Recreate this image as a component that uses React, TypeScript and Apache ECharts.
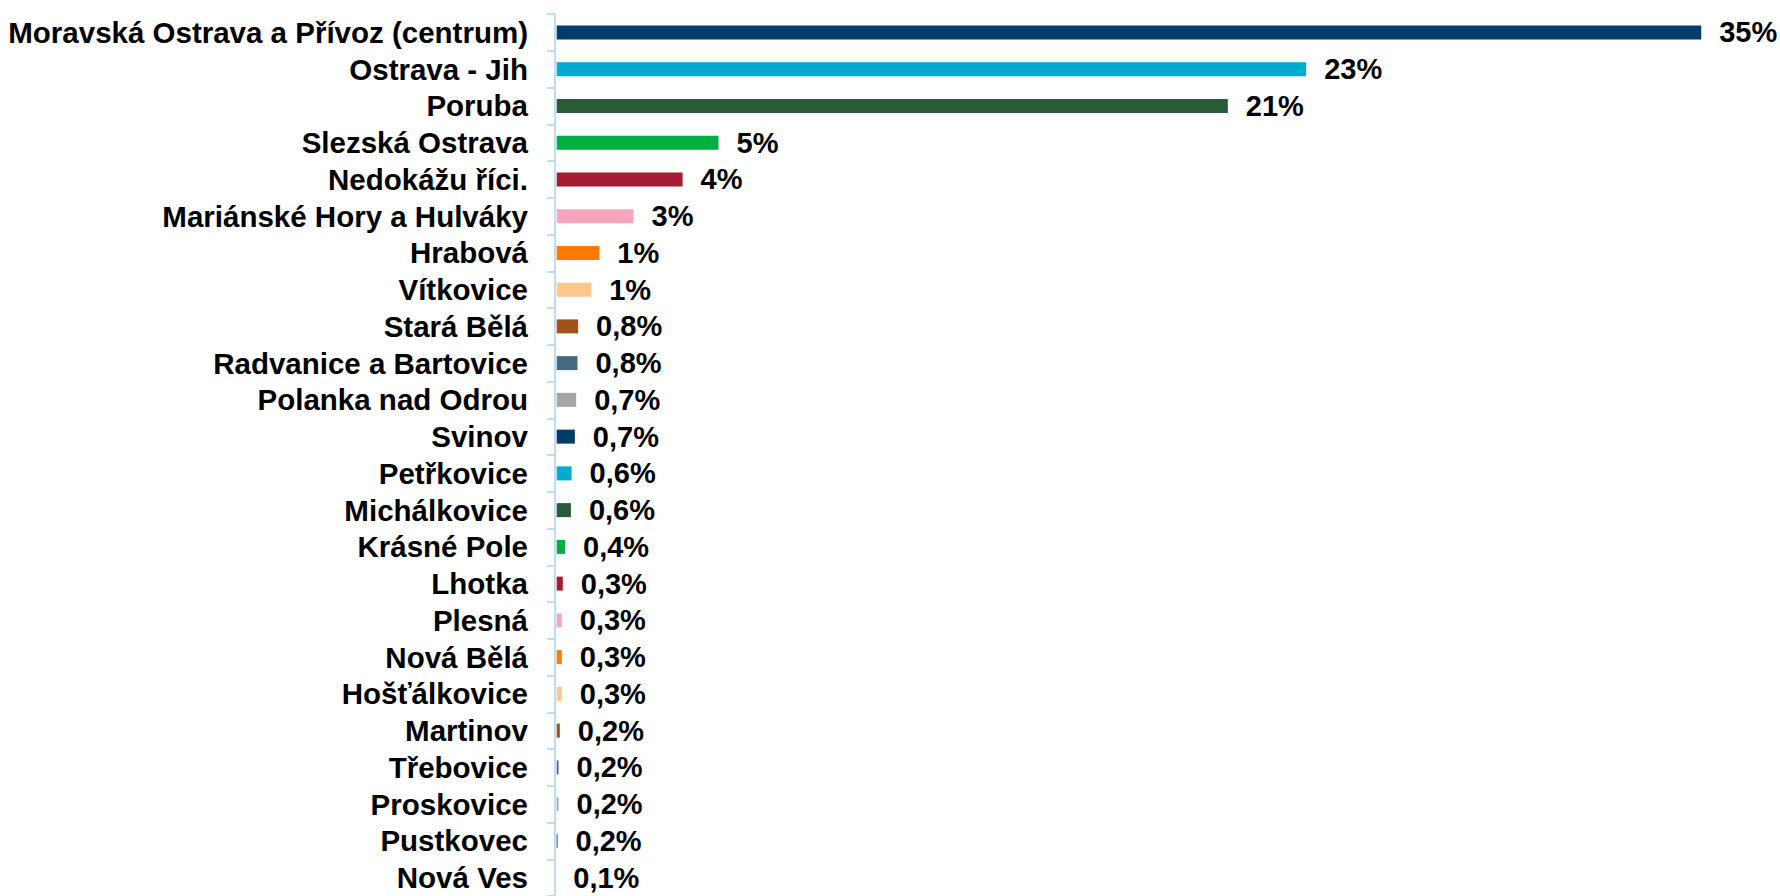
import React, { useEffect, useRef } from "react";
import * as echarts from "echarts";

const categories = [
  "Moravská Ostrava a Přívoz (centrum)",
  "Ostrava - Jih",
  "Poruba",
  "Slezská Ostrava",
  "Nedokážu říci.",
  "Mariánské Hory a Hulváky",
  "Hrabová",
  "Vítkovice",
  "Stará Bělá",
  "Radvanice a Bartovice",
  "Polanka nad Odrou",
  "Svinov",
  "Petřkovice",
  "Michálkovice",
  "Krásné Pole",
  "Lhotka",
  "Plesná",
  "Nová Bělá",
  "Hošťálkovice",
  "Martinov",
  "Třebovice",
  "Proskovice",
  "Pustkovec",
  "Nová Ves",
];

const values = [
  35.2, 23.1, 20.7, 5.1, 4.0, 2.5, 1.45, 1.2, 0.8, 0.78, 0.74, 0.7, 0.6, 0.58,
  0.4, 0.33, 0.3, 0.3, 0.3, 0.24, 0.2, 0.2, 0.17, 0.1,
];

const palette = [
  "#023C69",
  "#00ABD0",
  "#2A5B37",
  "#00AF41",
  "#A51B33",
  "#F5A6BD",
  "#FF7A00",
  "#FFC78A",
  "#A0521B",
  "#466A80",
  "#A6A6A6",
];

const FONT = "'Liberation Sans', Arial, sans-serif";

function fmt(v: number): string {
  if (v >= 1) return Math.round(v) + "%";
  return v.toFixed(1).replace(".", ",") + "%";
}

export default function App() {
  const ref = useRef<HTMLDivElement>(null);

  useEffect(() => {
    if (!ref.current) return;
    const chart = echarts.init(ref.current, undefined, { renderer: "svg" });
    const gridLeft = 552;
    const gridTop = 14;
    chart.setOption({
      animation: false,
      backgroundColor: "#ffffff",
      grid: {
        left: gridLeft,
        right: 20,
        top: gridTop,
        bottom: 0,
        containLabel: false,
        outerBoundsMode: "none",
      },
      xAxis: {
        type: "value",
        min: 0,
        max: 37,
        show: false,
      },
      yAxis: {
        type: "category",
        inverse: true,
        data: categories,
        offset: -3,
        z: 4,
        axisLine: { show: true, lineStyle: { color: "#BFDDF5", width: 2 } },
        axisTick: { show: true, length: 8, interval: 0, lineStyle: { color: "#BFDDF5", width: 2 } },
        splitLine: { show: false },
        axisLabel: {
          interval: 0,
          hideOverlap: false,
          margin: 27,
          color: "#000000",
          fontSize: 29.5,
          lineHeight: 26,
          fontWeight: "bold",
          fontFamily: FONT,
        },
      },
      graphic: [
        {
          type: "rect",
          z: 3,
          shape: { x: gridLeft - 0.5, y: 0, width: 5.2, height: 900 },
          style: { fill: "#ffffff" },
          silent: true,
        },
      ],
      series: [
        {
          type: "bar",
          z: 2,
          barWidth: 14,
          data: values.map((v, i) => ({
            value: v,
            itemStyle: { color: palette[i % palette.length] },
          })),
          label: {
            show: true,
            position: "right",
            distance: 18,
            color: "#000000",
            fontSize: 29,
            lineHeight: 26,
            fontWeight: "bold",
            fontFamily: FONT,
            formatter: (p: any) => fmt(p.value),
          },
        },
      ],
    });
    return () => chart.dispose();
  }, []);

  return (
    <div
      ref={ref}
      style={{
        position: "fixed",
        left: 0,
        top: 0,
        width: 1780,
        height: 896,
        background: "#fff",
      }}
    />
  );
}
